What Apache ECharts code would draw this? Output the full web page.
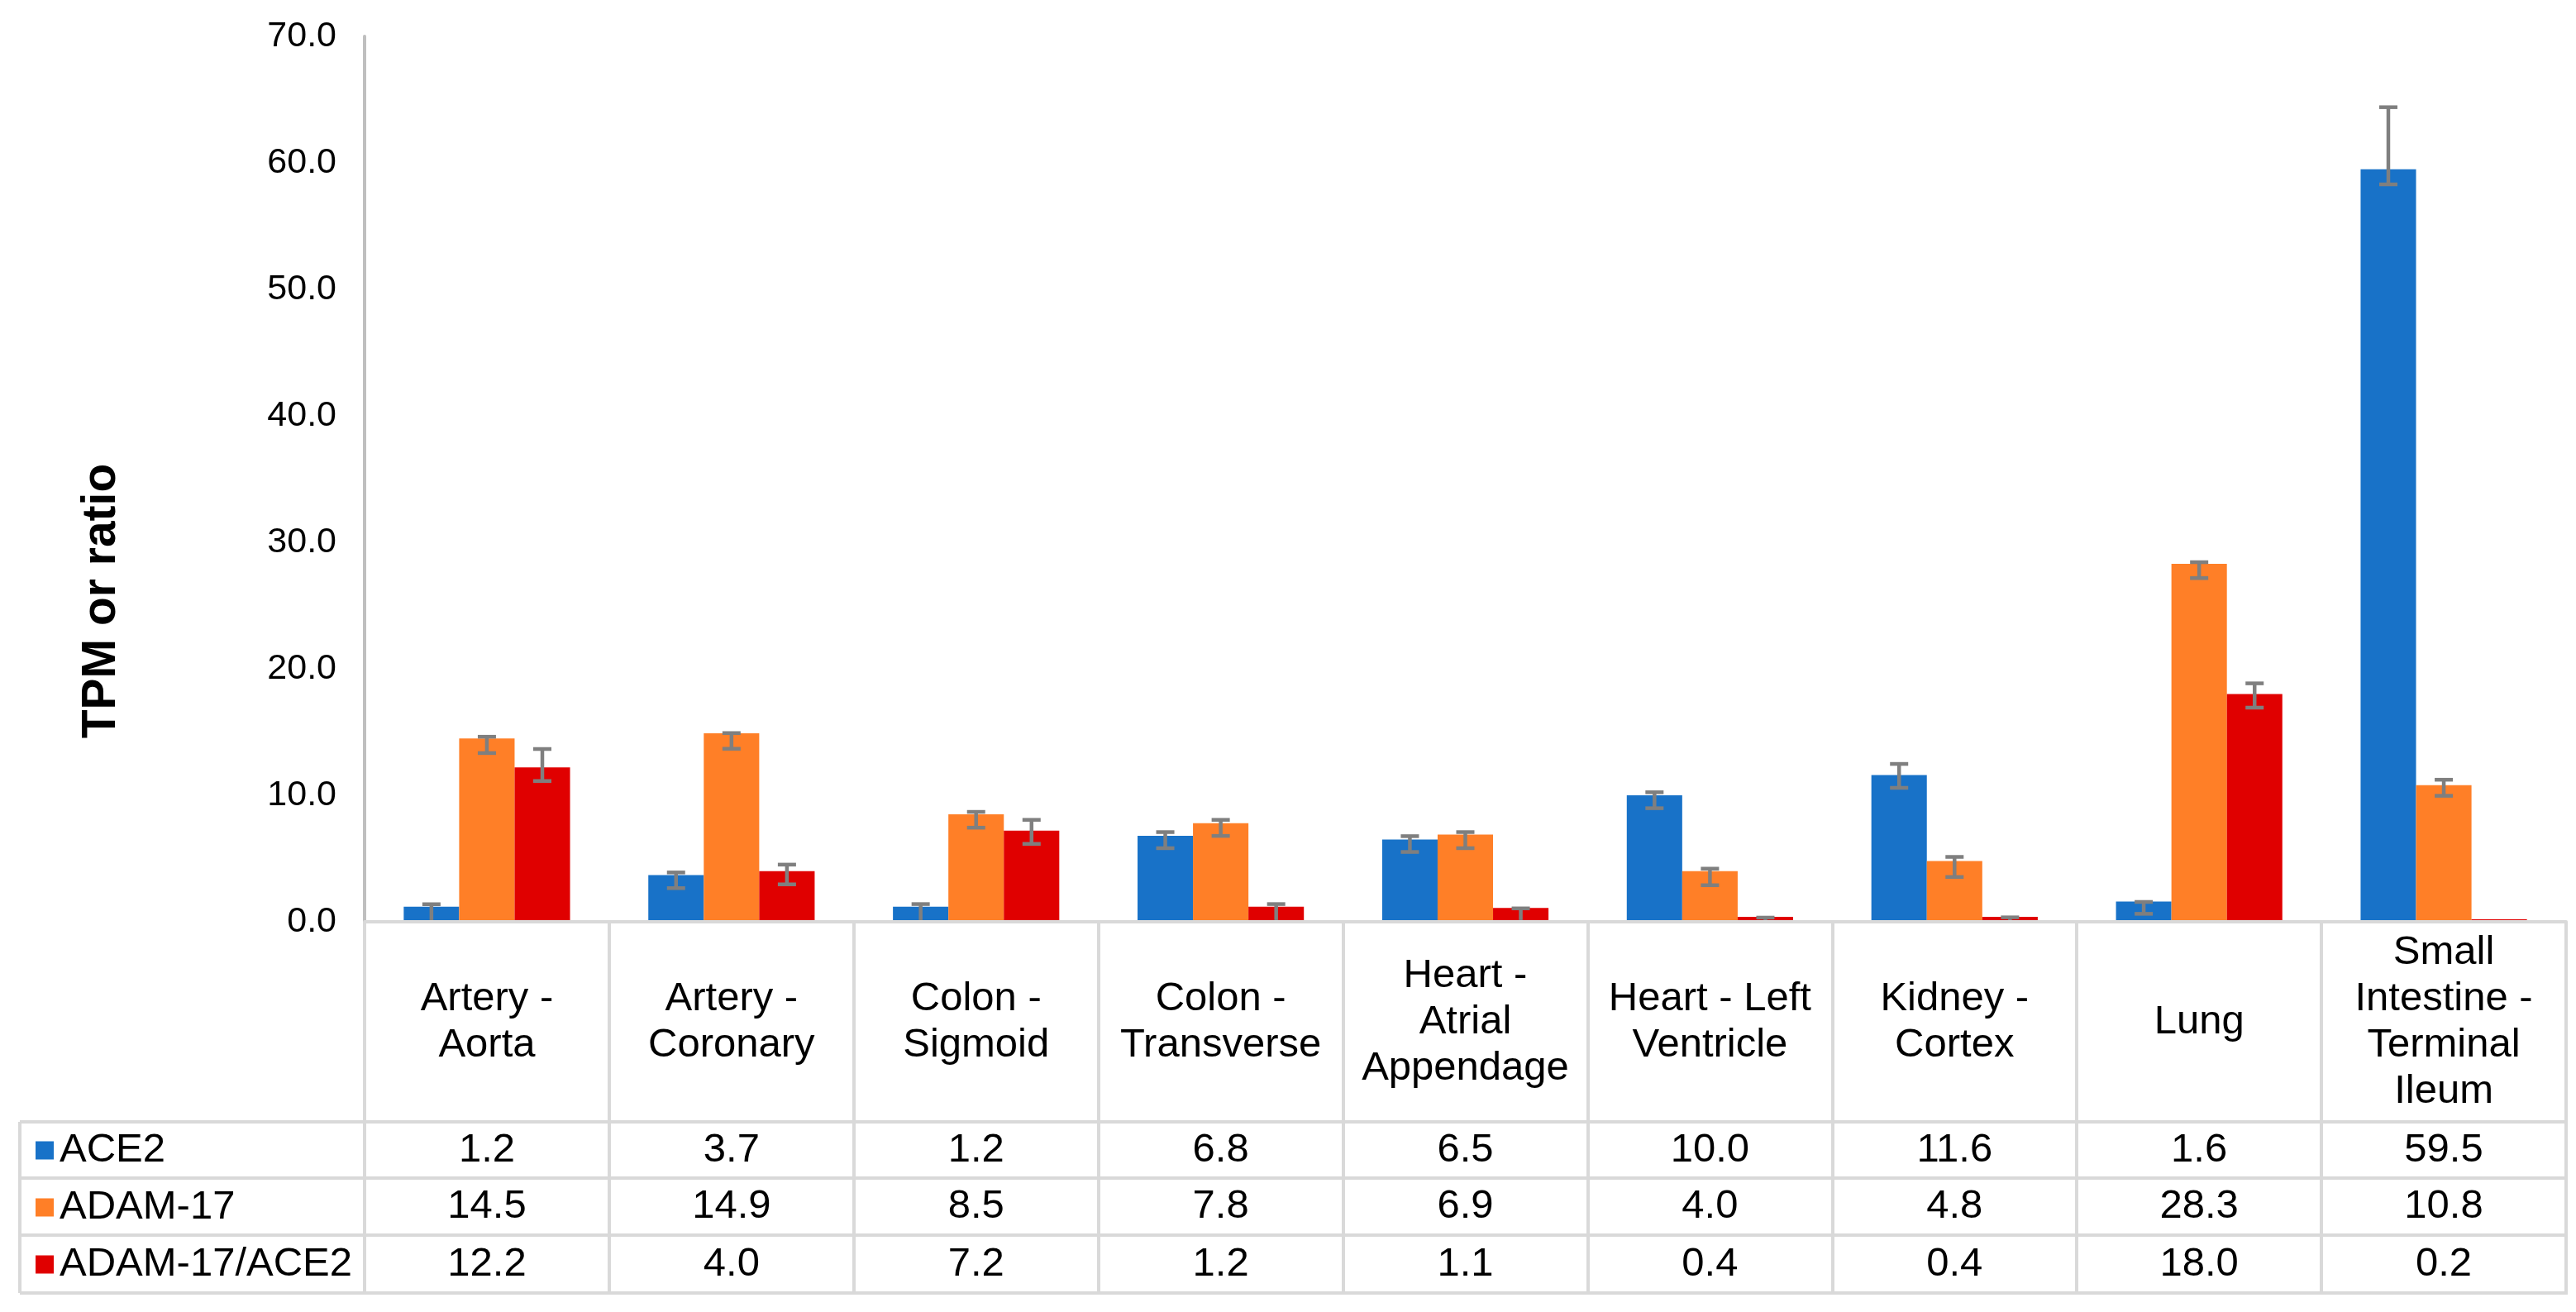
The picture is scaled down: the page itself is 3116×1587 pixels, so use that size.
<!DOCTYPE html>
<html>
<head>
<meta charset="utf-8">
<script src="https://cdn.jsdelivr.net/npm/echarts@6/dist/echarts.min.js"></script>
<style>html,body{margin:0;padding:0;background:#fff}#c{width:3116px;height:1587px}</style>
</head>
<body>
<div id="c"></div>
<script>
// ---- data ----
const categories = ["Artery -\nAorta", "Artery -\nCoronary", "Colon -\nSigmoid", "Colon -\nTransverse", "Heart -\nAtrial\nAppendage", "Heart - Left\nVentricle", "Kidney -\nCortex", "Lung", "Small\nIntestine -\nTerminal\nIleum"];
const seriesNames = ["ACE2", "ADAM-17", "ADAM-17/ACE2"];
const ace2   = [1.2, 3.7, 1.2, 6.8, 6.5, 10.0, 11.6, 1.6, 59.5];
const adam17 = [14.5, 14.9, 8.5, 7.8, 6.9, 4.0, 4.8, 28.3, 10.8];
const ratio  = [12.2, 4.0, 7.2, 1.2, 1.1, 0.4, 0.4, 18.0, 0.2];
// error bar bounds
const ace2Low    = [0, 2.66, 0, 5.82, 5.52, 8.98, 10.59, 0.63, 58.3];
const ace2High   = [1.39, 3.9, 1.4, 7.09, 6.77, 10.24, 12.48, 1.57, 64.4];
const adam17Low  = [13.34, 13.68, 7.44, 6.79, 5.82, 2.89, 3.54, 27.17, 9.96];
const adam17High = [14.63, 14.92, 8.69, 8.06, 7.09, 4.2, 5.13, 28.43, 11.23];
const ratioLow   = [11.13, 2.96, 6.16, 0, 0, 0, 0, 16.93, null];
const ratioHigh  = [13.66, 4.52, 8.06, 1.4, 1.06, 0.33, 0.35, 18.85, null];
const yTicks = { min: 0, max: 70, interval: 10 };

// ---- layout/style ----
const FONT = "Liberation Sans, Arial, sans-serif";
const colors = ["#1872C8", "#FF7F27", "#E00000"];
const GRID_L = 441, GRID_R_X = 3104, TOP = 44, ZERO_Y = 1115;
const ROW_TOP = 1357, ROW_H = [68, 69, 70];
const TABLE_BOTTOM = ROW_TOP + ROW_H[0] + ROW_H[1] + ROW_H[2];
const TABLE_LEFT = 24;
const LINE = "#D9D9D9";
const CAT_GAP = 0.32;
const TXT = 49;

const chart = echarts.init(document.getElementById('c'), null, {renderer: 'canvas'});

const valueRows = [ace2, adam17, ratio];
const rowCenters = [];
{ let y = ROW_TOP; for (let r = 0; r < 3; r++) { rowCenters.push(y + ROW_H[r] / 2); y += ROW_H[r]; } }

function errSeries(barIdx, lows, highs) {
  const data = [];
  categories.forEach((c, i) => { if (highs[i] != null) data.push([i, lows[i], highs[i]]); });
  return {
    type: 'custom', z: 5, silent: true,
    data: data,
    encode: { x: 0, y: [1, 2] },
    renderItem: function (params, api) {
      const i = api.value(0), lo = api.value(1), hi = api.value(2);
      const band = api.size([1, 0])[0];
      const barW = band * (1 - CAT_GAP) / 3;
      const cx = api.coord([i, 0])[0] + (barIdx - 1) * barW;
      const yHi = api.coord([i, hi])[1];
      const yLo = api.coord([i, lo])[1];
      const st = { stroke: '#7F7F7F', lineWidth: 4.5 };
      const children = [
        { type: 'line', shape: { x1: cx, y1: yHi, x2: cx, y2: yLo }, style: st },
        { type: 'line', shape: { x1: cx - 11, y1: yHi, x2: cx + 11, y2: yHi }, style: st }
      ];
      if (lo > 0) children.push({ type: 'line', shape: { x1: cx - 11, y1: yLo, x2: cx + 11, y2: yLo }, style: st });
      return { type: 'group', children: children };
    }
  };
}

const xAxes = [{
  type: 'category', data: categories, gridIndex: 0, position: 'bottom', z: 10,
  axisLine: { show: true, lineStyle: { color: LINE, width: 4 } },
  axisTick: { show: true, length: TABLE_BOTTOM - ZERO_Y, lineStyle: { color: LINE, width: 4 } },
  axisLabel: { interval: 0, margin: (ROW_TOP - ZERO_Y) / 2, verticalAlign: 'middle', align: 'center',
    fontFamily: FONT, fontSize: TXT, lineHeight: 56, color: '#000' }
}];
valueRows.forEach((arr, r) => {
  xAxes.push({
    type: 'category', data: categories, gridIndex: 0, position: 'bottom',
    offset: rowCenters[r] - ZERO_Y,
    axisLine: { show: false }, axisTick: { show: false },
    axisLabel: { interval: 0, margin: 0, verticalAlign: 'middle', align: 'center',
      fontFamily: FONT, fontSize: TXT, color: '#000',
      formatter: (v, idx) => arr[idx].toFixed(1) }
  });
});

const graphics = [];
// horizontal table lines
[ROW_TOP, ROW_TOP + ROW_H[0], ROW_TOP + ROW_H[0] + ROW_H[1], TABLE_BOTTOM].forEach(y => {
  graphics.push({ type: 'line', z: 20, shape: { x1: TABLE_LEFT, y1: y, x2: GRID_R_X + 2, y2: y }, style: { stroke: LINE, lineWidth: 4 } });
});
graphics.push({ type: 'line', z: 20, shape: { x1: TABLE_LEFT, y1: ROW_TOP, x2: TABLE_LEFT, y2: TABLE_BOTTOM }, style: { stroke: LINE, lineWidth: 4 } });
// y axis title
graphics.push({ type: 'text', x: 123, y: 727, rotation: Math.PI / 2,
  style: { text: 'TPM or ratio', fontFamily: FONT, fontSize: 57, fontWeight: 'bold', fill: '#000', align: 'center', verticalAlign: 'middle' } });

const option = {
  backgroundColor: '#fff',
  animation: false,
  grid: { left: GRID_L, right: 3116 - GRID_R_X, top: TOP, bottom: 1587 - ZERO_Y, containLabel: false },
  legend: {
    orient: 'vertical', left: 38, top: ROW_TOP - 5, itemGap: 0, itemWidth: 22, itemHeight: 22,
    icon: 'rect', selectedMode: false, data: seriesNames,
    textStyle: { fontFamily: FONT, fontSize: TXT, color: '#000', lineHeight: 69, padding: [0, 0, 0, 2] }
  },
  xAxis: xAxes,
  yAxis: {
    type: 'value', min: yTicks.min, max: yTicks.max, interval: yTicks.interval,
    axisLine: { show: true, lineStyle: { color: '#BFBFBF', width: 4 } },
    axisTick: { show: false }, splitLine: { show: false },
    axisLabel: { margin: 34, fontFamily: FONT, fontSize: 43, color: '#000', formatter: v => v.toFixed(1) }
  },
  graphic: graphics,
  series: [
    { name: seriesNames[0], type: 'bar', data: ace2, itemStyle: { color: colors[0] }, barGap: '0%', barCategoryGap: (CAT_GAP * 100) + '%', z: 2 },
    { name: seriesNames[1], type: 'bar', data: adam17, itemStyle: { color: colors[1] }, barGap: '0%', barCategoryGap: (CAT_GAP * 100) + '%', z: 2 },
    { name: seriesNames[2], type: 'bar', data: ratio, itemStyle: { color: colors[2] }, barGap: '0%', barCategoryGap: (CAT_GAP * 100) + '%', z: 2 },
    errSeries(0, ace2Low, ace2High),
    errSeries(1, adam17Low, adam17High),
    errSeries(2, ratioLow, ratioHigh)
  ]
};
chart.setOption(option);
</script>
</body>
</html>
